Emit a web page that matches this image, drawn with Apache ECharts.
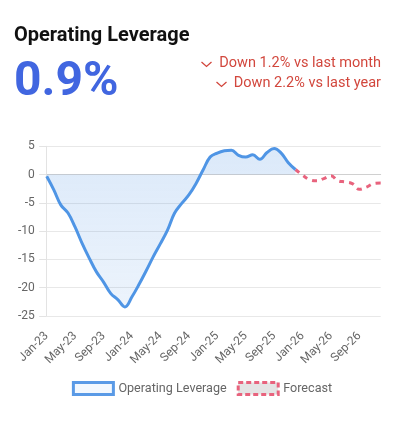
<!DOCTYPE html>
<html>
<head>
<meta charset="utf-8">
<script src="https://cdn.jsdelivr.net/npm/echarts@6/dist/echarts.min.js"></script>
<style>
html,body{margin:0;padding:0;background:#fff;}
#chart{width:404px;height:422px;}
</style>
</head>
<body>
<div id="chart"></div>
<script>
const months = ['Jan-23','Feb-23','Mar-23','Apr-23','May-23','Jun-23','Jul-23','Aug-23','Sep-23','Oct-23','Nov-23','Dec-23',
'Jan-24','Feb-24','Mar-24','Apr-24','May-24','Jun-24','Jul-24','Aug-24','Sep-24','Oct-24','Nov-24','Dec-24',
'Jan-25','Feb-25','Mar-25','Apr-25','May-25','Jun-25','Jul-25','Aug-25','Sep-25','Oct-25','Nov-25','Dec-25',
'Jan-26','Feb-26','Mar-26','Apr-26','May-26','Jun-26','Jul-26','Aug-26','Sep-26','Oct-26','Nov-26','Dec-26'];
const actual = [-0.3,-2.7,-5.4,-6.8,-9.3,-12.2,-14.8,-17.2,-19.0,-21.0,-22.1,-23.4,
-21.6,-19.4,-17.0,-14.5,-12.2,-9.8,-6.8,-5.1,-3.6,-1.6,0.8,3.1,
3.8,4.2,4.3,3.4,3.1,3.5,2.7,3.9,4.6,3.8,2.1,0.9];
const forecast = [0.9,-0.1,-0.9,-1.1,-0.7,-0.2,-1.1,-1.3,-1.6,-2.6,-2.2,-1.6,-1.5];
const yTicks = {min:-25, max:5, interval:5};
const kpiValue = '0.9%';
const changes = ['Down 1.2% vs last month','Down 2.2% vs last year'];

const forecastFull = months.map((m,i)=> i < actual.length-1 ? null : forecast[i-(actual.length-1)]);

const chart = echarts.init(document.getElementById('chart'), null, {renderer:'canvas'});
const font = 'Roboto, "Noto Sans", sans-serif';
const red = '#d2473d';
function chevron(x,y){
  return {type:'polyline', shape:{points:[[x,y],[x+5,y+4.5],[x+10,y]]}, style:{stroke:red, lineWidth:1.3, fill:null}};
}
chart.setOption({
  animation:false,
  textStyle:{fontFamily:font},
  grid:{left:46.7, right:23.3, top:146.3, bottom:106},
  legend:{
    top:376, left:'center', itemWidth:40, itemHeight:12, itemGap:10,
    textStyle:{color:'#666', fontSize:12.6, fontFamily:font},
    data:[
      {name:'Operating Leverage', icon:'rect', itemStyle:{color:'#f3f8fe', borderColor:'#5a9ae6', borderWidth:3}},
      {name:'Forecast', icon:'rect', itemStyle:{color:'#e4e4e4', borderColor:'#e8637d', borderWidth:3, borderType:[5,3]}}
    ]
  },
  xAxis:{
    type:'category', data:months, boundaryGap:false,
    axisLine:{lineStyle:{color:'#d0d0d0'}},
    axisTick:{show:false},
    axisLabel:{rotate:45, interval:3, color:'#666', fontSize:12, margin:18, fontFamily:font},
    splitLine:{show:false}
  },
  yAxis:{
    type:'value', min:yTicks.min, max:yTicks.max, interval:yTicks.interval,
    axisLine:{show:true, lineStyle:{color:'#e3e3e3'}},
    axisTick:{show:true, length:7.5, lineStyle:{color:'#e3e3e3'}},
    axisLabel:{color:'#666', fontSize:12, margin:12, fontFamily:font},
    splitLine:{lineStyle:{color:'#e8e8e8'}}
  },
  series:[
    {name:'Operating Leverage', type:'line', data:actual, smooth:0.4, symbol:'none',
     lineStyle:{color:'#4f95e5', width:3},
     itemStyle:{color:'#4f95e5'},
     areaStyle:{color:new echarts.graphic.LinearGradient(0,0,0,1,[{offset:0,color:'rgba(74,144,226,0.28)'},{offset:1,color:'rgba(74,144,226,0.15)'}])},
     z:3},
    {name:'Forecast', type:'line', data:forecastFull, smooth:0.4, symbol:'none',
     lineStyle:{color:'#e8637d', width:3, type:[5,5]},
     itemStyle:{color:'#e8637d'}, z:2}
  ],
  graphic:[
    {type:'text', left:14, top:26, style:{text:'Operating Leverage', font:'bold 20px '+font, fill:'#111'}},
    {type:'text', left:14, top:59, style:{text:kpiValue, font:'bold 48px '+font, fill:'#4166e0'}},
    {type:'text', right:23, top:56, style:{text:changes[0], font:'14.5px '+font, fill:red}},
    {type:'text', right:23, top:76, style:{text:changes[1], font:'14.5px '+font, fill:red}},
    chevron(201.5,62),
    chevron(216.5,82)
  ]
});
</script>
</body>
</html>
